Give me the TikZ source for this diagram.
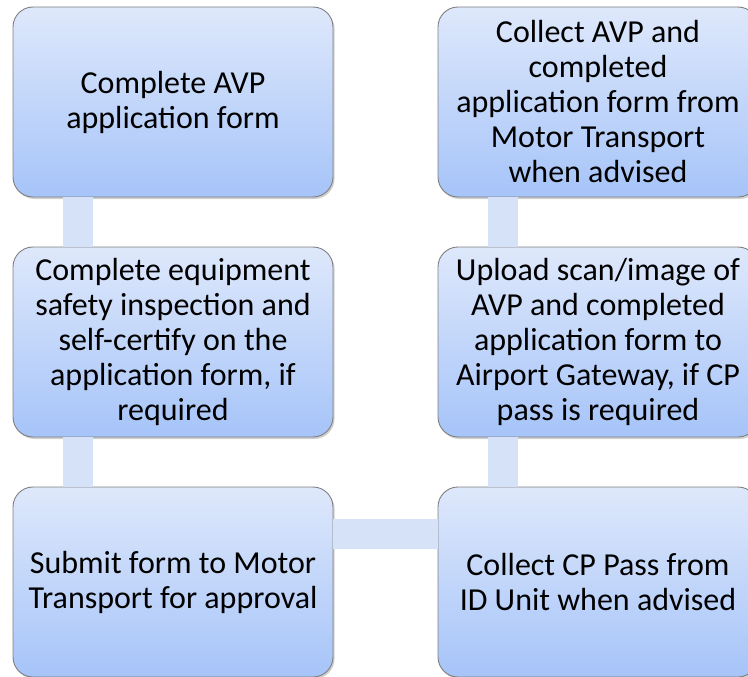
\documentclass[tikz,border=0pt]{standalone}
\usepackage{fontspec}
\setmainfont{Carlito}
\usetikzlibrary{shadows}
\definecolor{boxtop}{HTML}{DEE8FB}
\definecolor{boxbot}{HTML}{A6C4F9}
\definecolor{boxline}{HTML}{7F7F7F}
\definecolor{linkblue}{HTML}{D6E2F8}
\tikzset{
  stepbox/.style={draw=boxline, line width=0.9pt, rounded corners=20pt, top color=boxtop, bottom color=boxbot,
    minimum width=320pt, minimum height=190pt, align=center, inner sep=2pt,
    font=\fontsize{32}{35}\selectfont,
    drop shadow={opacity=0.3, shadow xshift=1.5pt, shadow yshift=-2pt, fill=black!60}},
  link/.style={draw=linkblue, line width=30pt}
}
\begin{document}
\begin{tikzpicture}[x=1pt,y=-1pt]
	\useasboundingbox (0,0) rectangle (748,677);
	\clip (0,0) rectangle (748,677);
	\node[stepbox] (form) at (173,102) {Complete AVP\\application form};
	\node[stepbox] (inspect) at (173,342) {Complete equipment\\safety inspection and\\self-certify on the\\application form, if\\required};
	\node[stepbox] (submit) at (173,582) {Submit form to Motor\\Transport for approval};
	\node[stepbox] (pass) at (598,582) {Collect CP Pass from\\ID Unit when advised};
	\node[stepbox] (upload) at (598,342) {Upload scan/image of\\AVP and completed\\application form to\\Airport Gateway, if CP\\pass is required};
	\node[stepbox] (collect) at (598,102) {Collect AVP and\\completed\\application form from\\Motor Transport\\when advised};
	\draw[link] ([xshift=-95pt]form.south) -- ([xshift=-95pt]inspect.north);
	\draw[link] ([xshift=-95pt]inspect.south) -- ([xshift=-95pt]submit.north);
	\draw[link] ([yshift=48pt]submit.east) -- ([yshift=48pt]pass.west);
	\draw[link] ([xshift=-95pt]pass.north) -- ([xshift=-95pt]upload.south);
	\draw[link] ([xshift=-95pt]upload.north) -- ([xshift=-95pt]collect.south);
\end{tikzpicture}
\end{document}
